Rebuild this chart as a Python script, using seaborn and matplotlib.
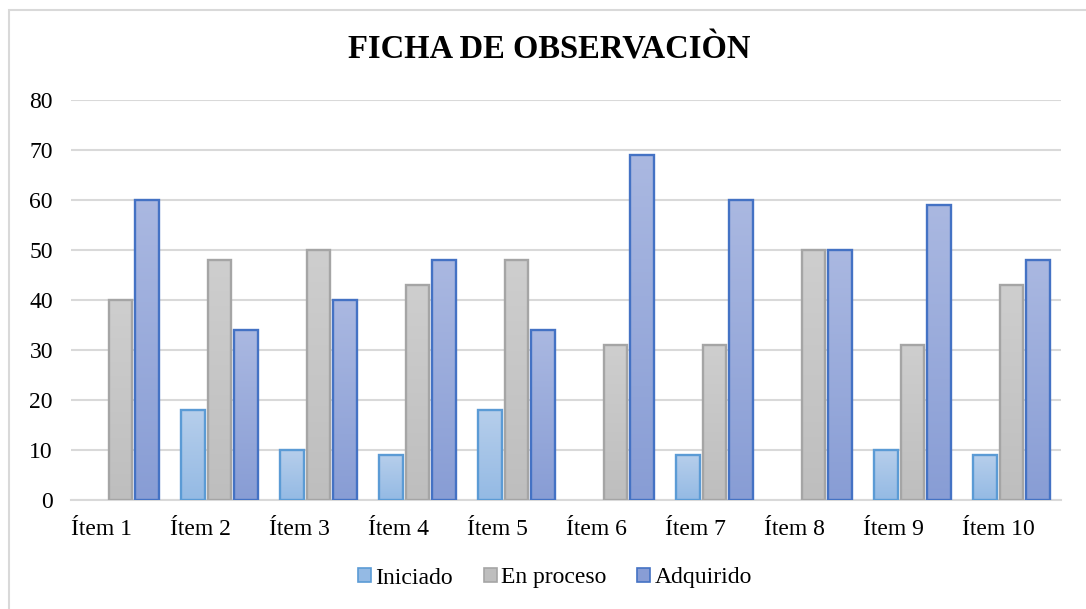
import numpy as np
import pandas as pd
import matplotlib
matplotlib.use("Agg")
import matplotlib.pyplot as plt
from matplotlib.patches import Patch, Rectangle
from matplotlib.colors import LinearSegmentedColormap
import seaborn as sns

# Data
items = ["Ítem 1", "Ítem 2", "Ítem 3", "Ítem 4", "Ítem 5",
         "Ítem 6", "Ítem 7", "Ítem 8", "Ítem 9", "Ítem 10"]
iniciado = [0, 18, 10, 9, 18, 0, 9, 0, 10, 9]
en_proceso = [40, 48, 50, 43, 48, 31, 31, 50, 31, 43]
adquirido = [60, 34, 40, 48, 34, 69, 60, 50, 59, 48]
series = ["Iniciado", "En proceso", "Adquirido"]
y_ticks = [0, 10, 20, 30, 40, 50, 60, 70, 80]

df = pd.DataFrame({
    "item": items * 3,
    "serie": [series[0]] * 10 + [series[1]] * 10 + [series[2]] * 10,
    "valor": iniciado + en_proceso + adquirido,
})

# Excel-like styling: gradient top->bottom, darker outline
grad = {
    "Iniciado": ("#B6CEEB", "#94BAE4"),
    "En proceso": ("#CECECE", "#BEBEBE"),
    "Adquirido": ("#AAB8E1", "#889DD5"),
}
edge = {"Iniciado": "#5B9BD5", "En proceso": "#A5A5A5", "Adquirido": "#4472C4"}
mid = {k: v[1] for k, v in grad.items()}

sns.set_style("white")
plt.rcParams["font.family"] = ["Liberation Serif", "DejaVu Serif"]
plt.rcParams["text.color"] = "black"

fig = plt.figure(figsize=(10.86, 6.09), dpi=100)
ax = fig.add_axes([71 / 1086, 1 - 500 / 609, 990 / 1086, 400 / 609])

sns.barplot(data=df, x="item", y="valor", hue="serie", hue_order=series,
            palette=mid, width=0.8, gap=0.12, ax=ax, legend=False,
            errorbar=None, zorder=3)

# gradient fill clipped to every bar
bars = [p for p in ax.patches if isinstance(p, Rectangle)]
for k, s in enumerate(series):
    cmap = LinearSegmentedColormap.from_list(s, [grad[s][1], grad[s][0]])
    for p in bars[k * 10:(k + 1) * 10]:
        x0, w, h = p.get_x(), p.get_width(), p.get_height()
        if h <= 0:
            p.set_visible(False)
            continue
        p.set_facecolor("none")
        p.set_edgecolor(edge[s])
        p.set_linewidth(1.7)
        p.set_zorder(4)
        img = ax.imshow(np.linspace(0, 1, 100).reshape(-1, 1), cmap=cmap,
                        aspect="auto", origin="lower",
                        extent=[x0, x0 + w, 0, h], zorder=3.5)
        img.set_clip_path(p)

ax.set_xlim(-0.5, 9.5)
ax.set_ylim(0, 80)
ax.set_yticks(y_ticks)
ax.set_yticklabels([str(v) for v in y_ticks])
ax.set_xticks(np.arange(10) - 0.5)
ax.set_xticklabels(items, ha="left")
ax.tick_params(axis="both", length=0, labelsize=17, colors="black")
ax.tick_params(axis="y", pad=13)
ax.tick_params(axis="x", pad=14)
ax.set_xlabel("")
ax.set_ylabel("")
ax.yaxis.grid(True, color="#D9D9D9", linewidth=1.5, zorder=0)
ax.set_axisbelow(True)
for side in ["top", "right", "left"]:
    ax.spines[side].set_visible(False)
ax.spines["bottom"].set_color("#D9D9D9")
ax.spines["bottom"].set_linewidth(1.5)

fig.text(549 / 1086, 1 - 50 / 609, "FICHA DE OBSERVACIÒN", color="black",
         ha="center", va="center", fontsize=23.5, fontweight="bold")

handles = [Patch(facecolor=mid[s], edgecolor=edge[s], linewidth=1.2, label=s)
           for s in series]
fig.legend(handles=handles, loc="center", bbox_to_anchor=(555 / 1086, 1 - 578 / 609),
           ncol=3, frameon=False, fontsize=17, handlelength=0.55, handleheight=0.55,
           handletextpad=0.2, columnspacing=1.3)

# outer chart frame
fig.patches.append(Rectangle((9 / 1086, -0.1), 1.2, 1 - 10 / 609 + 0.1,
                             transform=fig.transFigure, fill=False,
                             edgecolor="#D9D9D9", linewidth=1.5))

fig.savefig("out.png", dpi=100)
